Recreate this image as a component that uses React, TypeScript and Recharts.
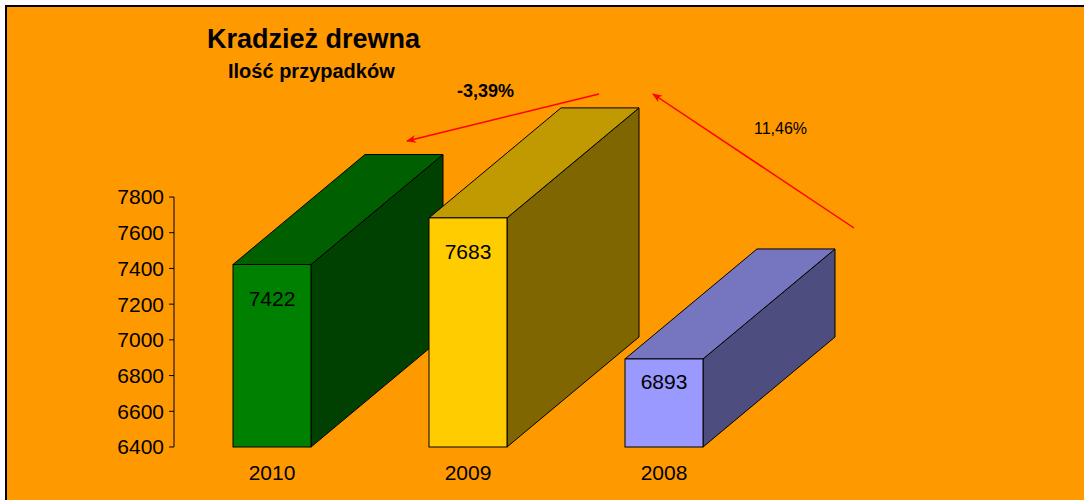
import React from 'react';
import { BarChart, Bar, XAxis, YAxis } from 'recharts';

const years = ['2010', '2009', '2008'];
const cases = [7422, 7683, 6893];
const yTicks = [6400, 6600, 6800, 7000, 7200, 7400, 7600, 7800];
const frontColors = ['#008000', '#FFCC00', '#9999FF'];
const topColors = ['#006000', '#C09A00', '#7575C0'];
const sideColors = ['#004000', '#806600', '#4D4D80'];
const titleText = 'Kradzież drewna';
const subtitleText = 'Ilość przypadków';
const changeLabels = ['-3,39%', '11,46%'];

const data = years.map((year, i) => ({ year, value: cases[i], idx: i }));

const DX = 132;
const DY = 110;

function Bar3D(props: any) {
  const { x, y, width, height, payload } = props;
  const i = payload.idx;
  const x2 = x + width;
  const yb = y + height;
  const top = `${x},${y} ${x2},${y} ${x2 + DX},${y - DY} ${x + DX},${y - DY}`;
  const side = `${x2},${y} ${x2 + DX},${y - DY} ${x2 + DX},${yb - DY} ${x2},${yb}`;
  const labelOffset = Math.min(41, height * 0.34);
  return (
    <g>
      <polygon points={side} fill={sideColors[i]} stroke="#000" strokeWidth={1} strokeLinejoin="round" />
      <polygon points={top} fill={topColors[i]} stroke="#000" strokeWidth={1} strokeLinejoin="round" />
      <rect x={x} y={y} width={width} height={height} fill={frontColors[i]} stroke="#000" strokeWidth={1} />
      <text x={x + width / 2} y={y + labelOffset} textAnchor="middle" fontSize={21} fill="#000">
        {payload.value}
      </text>
    </g>
  );
}

function XTick(props: any) {
  const { x, y, payload } = props;
  return (
    <text x={x} y={y} dy={33} textAnchor="middle" fontSize={21} fill="#000">
      {payload.value}
    </text>
  );
}

export default function App() {
  return (
    <div
      style={{
        position: 'absolute',
        left: 0,
        top: 0,
        width: 1084,
        height: 500,
        overflow: 'hidden',
        background: '#fff',
        fontFamily: '"Liberation Sans", Arial, sans-serif',
      }}
    >
      <div
        style={{
          position: 'absolute',
          left: 5,
          top: 5,
          right: 0,
          bottom: 0,
          background: '#FF9900',
          borderTop: '2px solid #000',
          borderLeft: '2px solid #000',
        }}
      />
      <div style={{ position: 'absolute', left: 0, top: 0 }}>
        <BarChart
          width={1084}
          height={500}
          data={data}
          margin={{ top: 197, right: 322, bottom: 23, left: 114 }}
          style={{ overflow: 'visible' }}
        >
          <XAxis
            dataKey="year"
            axisLine={false}
            tickLine={false}
            tickSize={0}
            tickMargin={0}
            height={30}
            tick={<XTick />}
            interval={0}
          />
          <YAxis
            domain={[6400, 7800]}
            ticks={yTicks}
            interval={0}
            width={60}
            axisLine={{ stroke: '#000', strokeWidth: 1 }}
            tickLine={{ stroke: '#000', strokeWidth: 1 }}
            tickSize={5}
            tickMargin={5}
            tick={{ fill: '#000', fontSize: 21 }}
          />
          <Bar dataKey="value" barSize={78} shape={<Bar3D />} isAnimationActive={false} />
        </BarChart>
      </div>
      <svg
        width={1084}
        height={500}
        style={{ position: 'absolute', left: 0, top: 0, pointerEvents: 'none' }}
      >
        <defs>
          <marker id="arr" markerWidth="10" markerHeight="8" refX="9" refY="4" orient="auto" markerUnits="userSpaceOnUse">
            <path d="M0,0 L10,4 L0,8 L3,4 Z" fill="#FF0000" />
          </marker>
        </defs>
        <text x={207} y={48} fontSize={27} fontWeight="bold" fill="#000">{titleText}</text>
        <text x={228} y={78} fontSize={20} fontWeight="bold" fill="#000">{subtitleText}</text>
        <text x={457} y={97} fontSize={18} fontWeight="bold" fill="#000">{changeLabels[0]}</text>
        <text x={754} y={134} fontSize={16} fill="#000">{changeLabels[1]}</text>
        <line x1={599} y1={94} x2={407} y2={141} stroke="#FF0000" strokeWidth={1.5} markerEnd="url(#arr)" />
        <line x1={854} y1={228} x2={653} y2={94} stroke="#FF0000" strokeWidth={1.5} markerEnd="url(#arr)" />
      </svg>
    </div>
  );
}
